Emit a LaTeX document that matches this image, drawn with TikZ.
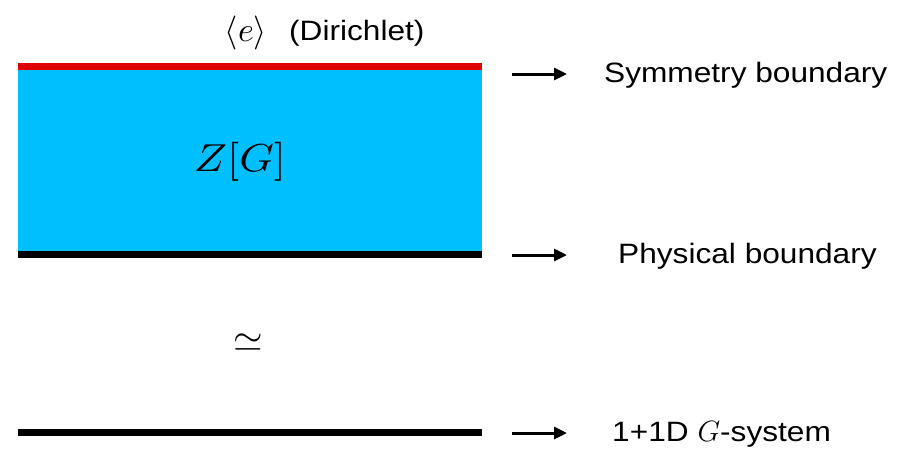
\documentclass[tikz,border=0pt]{standalone}
\usepackage{graphicx}
\usepackage{fontspec}
\setmainfont{Liberation Sans}[FakeStretch=1.13]
\usetikzlibrary{arrows.meta}
\definecolor{bulk}{HTML}{00BFFF}
\definecolor{symred}{HTML}{E00000}
\tikzset{
  lab/.style={anchor=west, inner sep=0pt, font=\fontsize{28}{32}\selectfont},
  pointer/.style={-{Triangle[length=13pt,width=12pt]}, line width=3pt},
}
\begin{document}
\begin{tikzpicture}[x=1pt,y=-1pt]
\useasboundingbox (0,0) rectangle (901,451);
% bulk slab
\fill[bulk] (18,68) rectangle (482,252);
\fill[symred] (18,63) rectangle (482,70);
\fill[black] (18,250.5) rectangle (482,257.5);
\fill[black] (18,428.5) rectangle (482,435.5);
\node[xscale=4.4,yscale=3.9] (zg) at (240,162) {$Z[G]$};
\node[scale=3.4] (ang) at (246,33) {$\langle e\rangle$};
\node[lab] (dir) at (289,33) {(Dirichlet)};
\node[scale=3.8] (eq) at (248,343) {$\simeq$};
% labels
\coordinate (a1s) at (512,74);  \coordinate (a1e) at (567,74);
\coordinate (a2s) at (512,255); \coordinate (a2e) at (567,255);
\coordinate (a3s) at (512,433); \coordinate (a3e) at (567,433);
\draw[pointer] (a1s) -- (a1e);
\draw[pointer] (a2s) -- (a2e);
\draw[pointer] (a3s) -- (a3e);
\node[lab] (sym) at (604,75) {Symmetry boundary};
\node[lab] (phys) at (618,256) {Physical boundary};
\node[lab] (gsys) at (612,434) {1+1D \scalebox{1.18}{$G$}-system};
\end{tikzpicture}
\end{document}
